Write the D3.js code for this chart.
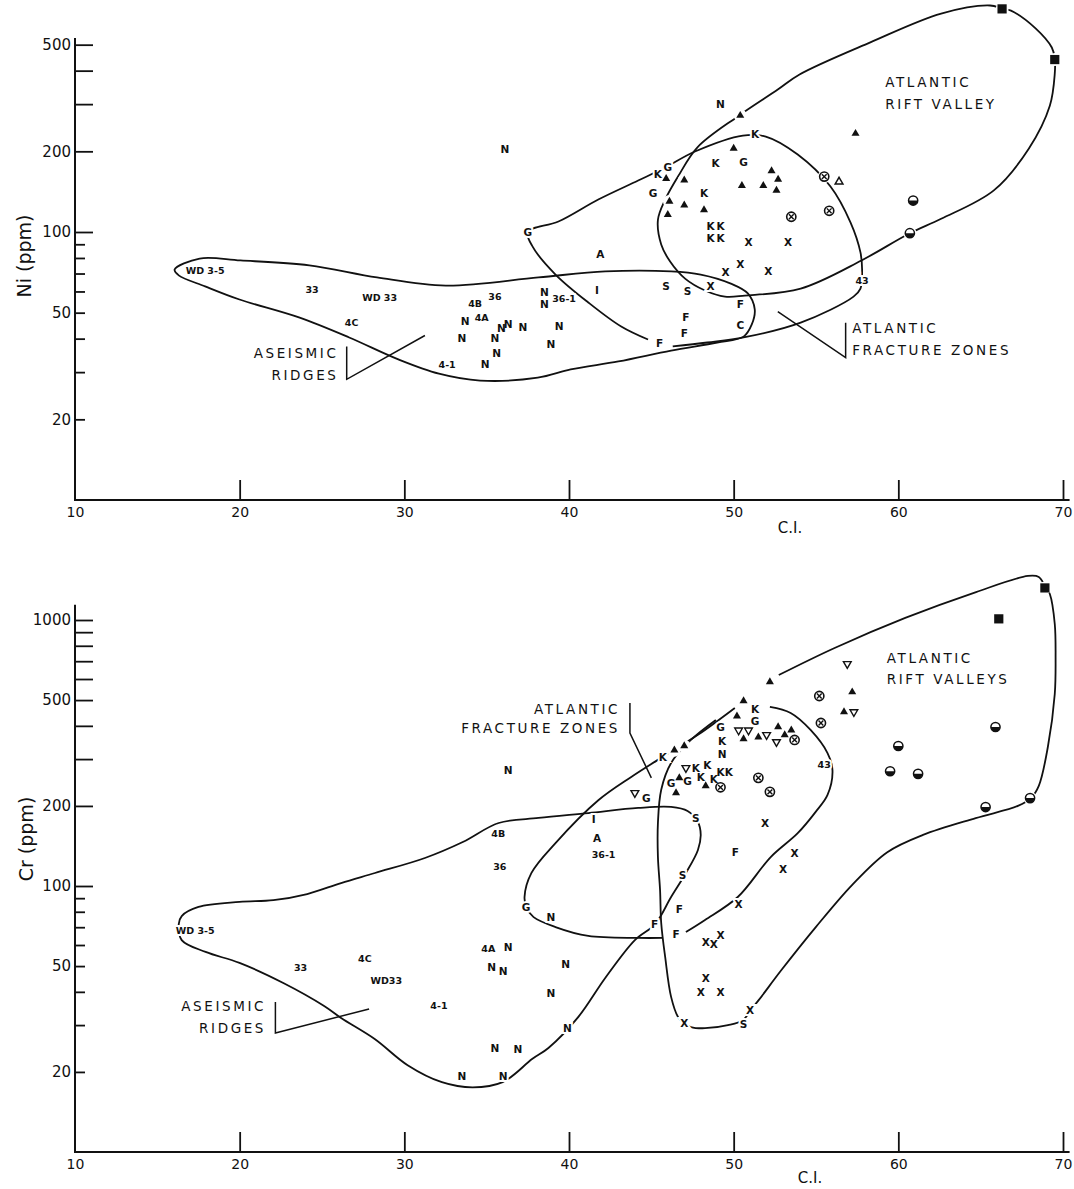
<!DOCTYPE html>
<html>
<head>
<meta charset="utf-8">
<script src="https://cdn.jsdelivr.net/npm/d3@7"></script>
<style>
  body { margin: 0; background: #fff; }
  svg text { font-family: "DejaVu Sans", "Liberation Sans", sans-serif; fill: #111; }
</style>
</head>
<body>
<div id="fig"></div>
<script>

// ---- axes ----
var ciTicks = [10, 20, 30, 40, 50, 60, 70];
var niTicks = [20, 30, 40, 50, 60, 70, 80, 90, 100, 200, 300, 400, 500];
var niTickLabels = [20, 50, 100, 200, 500];
var crTicks = [20, 30, 40, 50, 60, 70, 80, 90, 100, 200, 300, 400, 500, 600, 700, 800, 900, 1000];
var crTickLabels = [20, 50, 100, 200, 500, 1000];

// ---- Ni panel: [C.I., Ni ppm] ----
var niTri = [[50.4,272],[50.0,205],[57.4,233],[45.9,158],[47.0,156],[52.3,169],[52.7,157],[50.5,149],
  [51.8,149],[52.6,143],[46.1,130],[47.0,126],[46.0,116],[48.2,121]];
var niTriOpen = [[56.4,154]];
var niCircX = [[55.5,161],[53.5,114],[55.8,120]];
var niCircHalf = [[60.9,131],[60.7,99]];
var niSquare = [[66.3,680],[69.5,440]];
var niText = [["N",36.1,203],["N",49.2,301],["K",51.3,231],["K",48.9,180],["G",50.6,182],["K",45.4,164],
  ["G",46.0,174],["G",45.1,139],["K",48.2,140],["K",48.6,105],["K",49.2,105],["K",48.6,94.6],["K",49.2,94.6],
  ["X",50.9,91.4],["X",53.3,91.4],["X",50.4,75.7],["X",49.5,70.7],["X",52.1,71.3],["X",48.6,62.6],
  ["G",37.5,100],["A",41.9,82.4],["I",41.7,60.5],["S",45.9,62.6],["S",47.2,60],["F",50.4,53.6],
  ["F",47.1,48],["F",47.0,41.8],["C",50.4,44.8],["F",45.5,38.4],["43",57.8,66],
  ["WD 3-5",17.9,71.8],["33",24.4,61],["WD 33",28.5,57],["4C",26.8,45.9],["4B",34.3,54],["36",35.5,57.4],
  ["N",33.7,46.4],["4A",34.7,48],["N",33.5,40.1],["N",35.5,40.1],["N",35.9,43.7],["N",36.3,45.2],
  ["N",37.2,44],["N",35.6,35.2],["N",34.9,32.1],["4-1",32.6,32.1],["N",38.5,59.4],["N",38.5,53.6],
  ["36-1",39.7,56.3],["N",39.4,44.5],["N",38.9,38]];

var niAseismic = [[16.05,72.4],[17.57,79.6],[20.05,78.3],[24.23,75.1],[28.34,67.7],[32.52,63.1],[38.15,67.7],
  [42.2,71.3],[46.2,71.3],[48.0,69.4],[49.83,64.2],[50.86,59.0],[51.28,51.4],[51.1,45.2],[50.6,40.7],
  [49.0,38.7],[46.2,36.1],[43.0,32.9],[40.1,30.7],[38.1,28.6],[34.6,27.9],[32.1,29.6],[29.67,33.4],
  [26.65,40.4],[23.6,48.0],[19.99,56.0],[17.9,62.7],[16.3,68.9]];
var niRift = [[50.25,270],[52.68,340],[54.0,387],[58.3,510],[62.6,653],[65.57,700],[66.3,682],[66.84,670],
  [68.35,574],[69.32,488],[69.5,444],[69.5,390],[69.2,296],[67.93,205],[65.8,143],[62.6,112],[60.67,98.7],
  [57.76,78.3],[54.07,61.5],[50.68,57.9],[49.47,57.4],[48.26,60.5],[47.05,67],[46.14,77.6],[45.6,89.8],
  [45.4,111],[45.84,132],[46.62,161],[47.8,207]];
var niFracture = [[44.8,39.7],[43.17,44.4],[41.17,54.6],[39.18,69.4],[37.8,88],[37.5,100],[39.36,109.4],
  [41.78,132.2],[44.2,155.6],[45.84,174],[47.65,199.7],[50.56,229],[51.95,227],[53.89,194.5],[55.88,147.8],
  [57.1,108.4],[57.7,83.9],[57.8,72.4],[57.7,61.5],[57.28,57.4],[54.07,45.9],[50.6,40.4],[48.4,38.7],[46.3,37.4]];
var niPointers = [[[26.5,37.4],[26.5,28.2],[31.25,41.1]], [[56.8,45.9],[56.8,34.0],[52.68,50.5]]];
var niNotesStart = [["ATLANTIC",59.2,361],["RIFT VALLEY",59.2,299],["ATLANTIC",57.2,43.7],["FRACTURE ZONES",57.2,36.2]];
var niNotesEnd = [["ASEISMIC",26.0,35.2],["RIDGES",26.0,29.2]];

// ---- Cr panel: [C.I., Cr ppm] ----
var crTri = [[46.4,324],[47.0,336],[46.7,255],[46.5,224],[48.3,238],[50.2,435],[50.6,496],[50.6,357],
  [51.5,363],[52.7,396],[53.1,370],[53.5,385],[52.2,585],[57.2,536],[56.7,451]];
var crTriDown = [[44.0,224],[47.1,278],[50.3,385],[50.9,385],[52.0,370],[52.6,348],[57.3,451],[56.9,684]];
var crCircX = [[49.2,235],[53.7,354],[51.5,255],[52.2,226],[55.2,518],[55.3,410]];
var crCircHalf = [[65.9,396],[60.0,336],[59.5,270],[61.2,264],[65.3,198],[68.0,214]];
var crSquare = [[66.1,1010],[68.9,1320]];
var crText = [["K",45.7,305],["G",44.7,214],["G",46.2,244],["G",47.2,248],["K",47.7,278],["K",48.4,285],
  ["K",48.0,257],["K",48.8,253],["K",49.2,268],["K",49.7,268],["G",49.2,396],["K",49.3,351],["N",49.3,313],
  ["K",51.3,462],["G",51.3,417],["43",55.5,285],["N",36.3,273],["I",41.5,179],["A",41.7,151],["36-1",42.1,131],
  ["S",47.7,180],["S",46.9,110],["F",46.7,82],["F",46.5,66],["F",45.2,72],["F",50.1,134],["G",37.4,83],
  ["N",38.9,76],["4B",35.7,158],["36",35.8,118],["4A",35.1,58],["N",36.3,59],["N",35.3,49.5],["N",36.0,47.9],
  ["N",39.8,50.9],["N",38.9,39.6],["N",39.9,29.2],["X",51.9,172],["X",53.7,133],["X",53.0,116],["X",50.3,85.5],
  ["X",48.3,61.5],["X",48.8,60.5],["X",49.2,65.4],["X",48.3,45.1],["X",48.0,40],["X",49.2,40],["X",51.0,34.2],
  ["X",47.0,30.5],["S",50.6,30.3],["WD 3-5",17.3,68],["33",23.7,49.2],["4C",27.6,53.2],["WD33",28.9,44],
  ["4-1",32.1,35.4],["N",35.5,24.6],["N",36.9,24.4],["N",33.5,19.3],["N",36.0,19.3]];

var crAseismic = [[16.3,71.9],[16.48,77.1],[17.5,83.4],[19.99,87.1],[22.05,88.5],[24.1,93.3],[26.16,102.6],
  [28.22,111.9],[31.25,127.4],[33.55,146.3],[35.73,172.5],[38.15,180.2],[41.17,188],[44.2,196.5],[46.2,198.2],
  [47.2,191.4],[47.83,174],[48.0,155.6],[47.83,136.6],[47.1,111.9],[46.2,90.9],[45.23,71.9],[44.0,62.6],
  [42.2,45.1],[40.57,32.2],[38.75,24.6],[37.78,22.4],[35.97,18.3],[34.15,17.5],[32.28,18.3],[30.2,21.2],
  [28.2,26.6],[26.16,31.9],[25.13,35.4],[22.65,43.2],[19.99,51.4],[17.93,56.5],[16.48,62.6]];
var crFracture = [[50.07,467],[47.83,370],[45.84,310],[43.78,257],[41.78,210],[39.18,145],[37.72,112],[37.3,91],
  [37.42,82.7],[37.85,76.4],[39.18,70.1],[41.17,64.9],[44.2,63.8],[45.7,63.8]];
var crRift = [[48.92,421],[47.4,354],[46.2,290],[45.6,230],[45.4,172.5],[45.4,128.5],[45.53,96.6],[45.6,72.6],
  [45.84,54.1],[46.2,38.3],[46.62,32.2],[46.99,30.5],[47.4,29.5],[48.26,29.2],[49.65,30],[50.56,31.3],
  [51.04,34.2],[51.53,37.3],[52.9,48.3],[55.0,70.2],[57.2,101],[59.33,134],[61.5,155.6],[64.7,180],
  [67.26,200],[68.05,214],[68.53,238],[69.08,333],[69.5,527],[69.55,720],[69.5,966],[69.2,1253],[68.9,1343],
  [68.53,1452],[67.87,1464],[64.72,1274],[60.42,1018],[56.13,785],[52.74,621]];
var crFracture43 = [[52.2,471],[53.46,447],[54.67,386],[55.7,316],[56.0,273],[55.7,220],[54.98,190],
  [53.89,158],[52.25,128.5],[50.25,90.9],[48.26,74.5],[47.1,67.1]];
var crPointers = [[[22.17,36.6],[22.17,28],[27.86,34.5]], [[43.7,488],[43.7,376],[45.0,255]]];
var crNotesStart = [["ATLANTIC",59.3,720],["RIFT VALLEYS",59.3,600]];
var crNotesEnd = [["ASEISMIC",21.6,35.4],["RIDGES",21.6,29.2],["ATLANTIC",43.1,463],["FRACTURE ZONES",43.1,393]];


var width = 1074, height = 1189;
var ink = "#111";

var svg = d3.select("#fig").append("svg")
  .attr("width", width)
  .attr("height", height);

var x = d3.scaleLinear().domain([10, 70]).range([75, 1063]);
var yNi = d3.scaleLog().domain([10, 1000]).range([500, -36]);
var yCr = d3.scaleLog().domain([10, 10000]).range([1152, 354]);

function panel(p) {
  var y = p.y;
  var base = y(10);
  var g = svg.append("g");

  // y axis, ticks pointing into the plot
  var gy = g.append("g")
    .attr("transform", "translate(" + x(10) + ",0)")
    .call(d3.axisLeft(y).tickValues(p.ticks).tickSize(-18).tickPadding(4)
      .tickFormat(function(d) { return p.tickLabels.indexOf(d) >= 0 ? d : ""; }));
  gy.select(".domain").remove();
  gy.selectAll(".tick line")
    .attr("x2", function(d) { return d >= 100 ? 18 : 10; })
    .attr("stroke", ink).attr("stroke-width", 1.8);
  gy.selectAll(".tick text").style("font-size", "15px");

  var gx = g.append("g")
    .attr("transform", "translate(0," + base + ")")
    .call(d3.axisBottom(x).tickValues(ciTicks).tickSize(-20).tickPadding(7).tickFormat(d3.format("d")));
  gx.select(".domain").remove();
  gx.selectAll(".tick").filter(function(d) { return d === 10; }).select("line").remove();
  gx.selectAll(".tick line").attr("stroke", ink).attr("stroke-width", 1.8);
  gx.selectAll(".tick text").style("font-size", "14px");

  g.append("line")
    .attr("x1", x(10)).attr("x2", x(10)).attr("y1", base + 1).attr("y2", y(p.yTop))
    .attr("stroke", ink).attr("stroke-width", 2);
  g.append("line")
    .attr("x1", x(10) - 1).attr("x2", x(70.4)).attr("y1", base).attr("y2", base)
    .attr("stroke", ink).attr("stroke-width", 2.2);

  g.append("text")
    .attr("transform", "translate(" + p.titlePos[0] + "," + p.titlePos[1] + ") rotate(-90)")
    .attr("text-anchor", "middle").attr("dy", "0.35em")
    .style("font-size", "19px")
    .text(p.title);
  g.append("text")
    .attr("x", p.ciPos[0]).attr("y", p.ciPos[1])
    .attr("text-anchor", "middle").attr("dy", "0.35em")
    .style("font-size", "15px")
    .text("C.I.");

  // envelopes
  var line = d3.line()
    .x(function(d) { return x(d[0]); })
    .y(function(d) { return y(d[1]); });

  p.loops.forEach(function(c) {
    g.append("path").attr("d", line.curve(d3.curveCatmullRomClosed)(c))
      .attr("fill", "none").attr("stroke", ink).attr("stroke-width", 1.8);
  });
  p.curves.forEach(function(c) {
    g.append("path").attr("d", line.curve(d3.curveCatmullRom)(c))
      .attr("fill", "none").attr("stroke", ink).attr("stroke-width", 1.8);
  });
  p.pointers.forEach(function(c) {
    g.append("path").attr("d", line.curve(d3.curveLinear)(c))
      .attr("fill", "none").attr("stroke", ink).attr("stroke-width", 1.5);
  });

  function spot(d) { return "translate(" + x(d[0]) + "," + y(d[1]) + ")"; }
  function place(d) { return "translate(" + x(d[1]) + "," + y(d[2]) + ")"; }
  function fs(d) { return d[0].length > 1 ? "9.5px" : "10.5px"; }

  // white knock-outs so the lines break at the marks
  var halo = g.append("g");
  var glyphs = [].concat(p.tri, p.triOpen, p.triDown, p.circX, p.circHalf, p.square);
  halo.selectAll("circle").data(glyphs).enter().append("circle")
    .attr("transform", spot).attr("r", 6.5).attr("fill", "#fff");
  halo.selectAll("text").data(p.text).enter().append("text")
    .attr("transform", place)
    .attr("text-anchor", "middle").attr("dy", "0.36em")
    .style("font-size", fs).style("font-weight", "bold")
    .style("fill", "#fff").style("stroke", "#fff").style("stroke-width", 4)
    .text(function(d) { return d[0]; });

  var marks = g.append("g");
  marks.selectAll(".tri").data(p.tri).enter().append("path")
    .attr("transform", spot)
    .attr("d", d3.symbol(d3.symbolTriangle, 28)())
    .attr("fill", ink);
  marks.selectAll(".triOpen").data(p.triOpen).enter().append("path")
    .attr("transform", spot)
    .attr("d", d3.symbol(d3.symbolTriangle, 26)())
    .attr("fill", "#fff").attr("stroke", ink).attr("stroke-width", 1.5);
  marks.selectAll(".triDown").data(p.triDown).enter().append("path")
    .attr("transform", function(d) { return spot(d) + " rotate(180)"; })
    .attr("d", d3.symbol(d3.symbolTriangle, 26)())
    .attr("fill", "#fff").attr("stroke", ink).attr("stroke-width", 1.4);

  var cx = marks.selectAll(".cx").data(p.circX).enter().append("g").attr("transform", spot);
  cx.append("circle").attr("r", 4.6).attr("fill", "#fff").attr("stroke", ink).attr("stroke-width", 1.6);
  cx.append("path").attr("d", "M-2.4,-2.4L2.4,2.4M-2.4,2.4L2.4,-2.4").attr("stroke", ink).attr("stroke-width", 1.4);

  var ch = marks.selectAll(".ch").data(p.circHalf).enter().append("g").attr("transform", spot);
  ch.append("circle").attr("r", 4.6).attr("fill", "#fff").attr("stroke", ink).attr("stroke-width", 1.5);
  ch.append("path").attr("d", "M-4.6,0A4.6,4.6 0 0 0 4.6,0Z").attr("fill", ink);

  marks.selectAll(".sq").data(p.square).enter().append("rect")
    .attr("transform", spot)
    .attr("x", -4.6).attr("y", -4.6).attr("width", 9.2).attr("height", 9.2)
    .attr("fill", ink);

  marks.selectAll(".lbl").data(p.text).enter().append("text")
    .attr("transform", place)
    .attr("text-anchor", "middle").attr("dy", "0.36em")
    .style("font-size", fs).style("font-weight", "bold")
    .text(function(d) { return d[0]; });

  // region names
  function notes(list, anchor) {
    g.selectAll(null).data(list).enter().append("text")
      .attr("transform", place)
      .attr("text-anchor", anchor).attr("dy", "0.36em")
      .style("font-size", "13.5px").style("letter-spacing", "2.6px")
      .text(function(d) { return d[0]; });
  }
  notes(p.notesStart, "start");
  notes(p.notesEnd, "end");
}

panel({
  y: yNi, yTop: 530, ticks: niTicks, tickLabels: niTickLabels,
  title: "Ni (ppm)", titlePos: [24, 256], ciPos: [790, 528],
  loops: [niAseismic, niRift], curves: [niFracture], pointers: niPointers,
  tri: niTri, triOpen: niTriOpen, triDown: [], circX: niCircX, circHalf: niCircHalf, square: niSquare,
  text: niText, notesStart: niNotesStart, notesEnd: niNotesEnd
});

panel({
  y: yCr, yTop: 1140, ticks: crTicks, tickLabels: crTickLabels,
  title: "Cr (ppm)", titlePos: [26, 839], ciPos: [810, 1178],
  loops: [crAseismic], curves: [crFracture, crRift, crFracture43], pointers: crPointers,
  tri: crTri, triOpen: [], triDown: crTriDown, circX: crCircX, circHalf: crCircHalf, square: crSquare,
  text: crText, notesStart: crNotesStart, notesEnd: crNotesEnd
});

</script>
</body>
</html>
